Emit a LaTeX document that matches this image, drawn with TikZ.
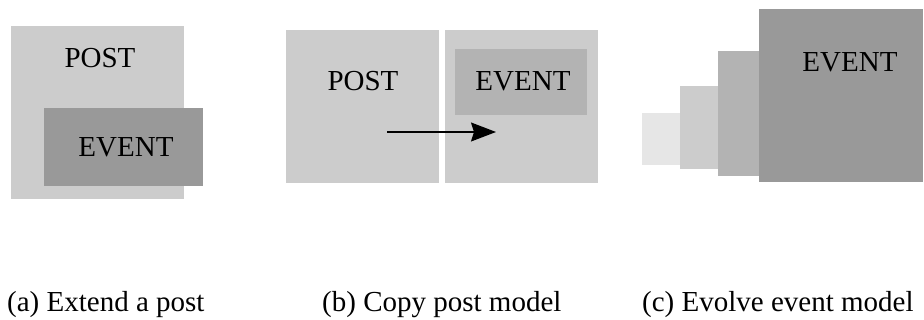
\documentclass[tikz,border=0pt]{standalone}
\usepackage{fontspec}
\setmainfont{Liberation Serif}
\usetikzlibrary{arrows.meta}
\definecolor{grayA}{HTML}{E6E6E6}
\definecolor{grayB}{HTML}{CCCCCC}
\definecolor{grayC}{HTML}{B3B3B3}
\definecolor{grayD}{HTML}{999999}
\begin{document}
\begin{tikzpicture}[x=1pt,y=-1pt,
  lbl/.style={anchor=base,inner sep=0pt,font=\fontsize{29}{34}\selectfont},
  captext/.style={anchor=base west,inner sep=0pt,font=\fontsize{29}{34}\selectfont}]
\useasboundingbox (0,0) rectangle (924,320);

% (a) a post extended by an event
\fill[grayB] (11,26) rectangle (184,199);
\fill[grayD] (44,108) rectangle (203,186);
\node[lbl] (postA) at (100,68) {POST};
\node[lbl] (eventA) at (126,157) {EVENT};

% (b) post model copied into an event
\fill[grayB] (286,30) rectangle (439,183);
\fill[grayB] (445,30) rectangle (598,183);
\fill[grayC] (455,49) rectangle (587,115);
\node[lbl] (postB) at (363,91) {POST};
\node[lbl] (eventB) at (523,91) {EVENT};
\coordinate (arrS) at (387,132);
\coordinate (arrE) at (496,132);
\draw[line width=1.3pt,-{Stealth[length=25pt,width=19pt,inset=3pt]}] (arrS) -- (arrE);

% (c) event model growing in steps
\fill[grayA] (642,113) rectangle (680,165);
\fill[grayB] (680,86) rectangle (718,169);
\fill[grayC] (718,51) rectangle (759,176);
\fill[grayD] (759,9) rectangle (923,182);
\node[lbl] (eventC) at (850,72) {EVENT};

% captions
\node[captext] (capA) at (7,312) {(a) Extend a post};
\node[captext] (capB) at (322,312) {(b) Copy post model};
\node[captext] (capC) at (642,312) {(c) Evolve event model};
\end{tikzpicture}
\end{document}
